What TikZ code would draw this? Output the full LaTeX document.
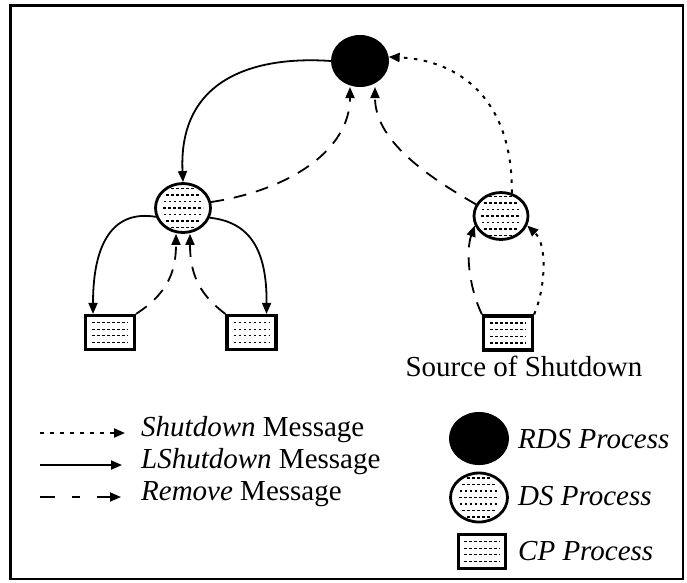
\documentclass[tikz,border=0pt]{standalone}
\usepackage{fontspec}
\setmainfont{Liberation Serif}
\usetikzlibrary{shapes.geometric,arrows.meta}

\begin{document}
\begin{tikzpicture}[x=1pt,y=-1pt,
  label/.style={inner sep=0pt, font=\fontsize{29}{32}\selectfont},
  tip/.style={-{Triangle[length=11pt,width=9pt]}},
  lshut/.style={tip, line width=1.8pt},
  remove/.style={tip, line width=1.8pt, dash pattern=on 13pt off 10pt},
  shut/.style={tip, line width=2pt, dash pattern=on 3.5pt off 6.5pt},
  texture/.style={line width=1.3pt, dash pattern=on 2.5pt off 2.5pt},
  dstex/.style={path picture={
    \foreach \dy in {-19.5,-13,-6.5,0,6.5,13,19.5}{
      \pgfmathsetmacro\halflen{20*sqrt(max(0,1-(\dy/24)^2))}
      \draw[texture] ([xshift=-\halflen pt,yshift=\dy pt]path picture bounding box.center)
        -- ([xshift=\halflen pt,yshift=\dy pt]path picture bounding box.center);
    }}},
  cptex/.style={path picture={
    \foreach \dy in {-10,-3.3,3.3,10}{
      \draw[texture] ([xshift=-18pt,yshift=\dy pt]path picture bounding box.center)
        -- ([xshift=18pt,yshift=\dy pt]path picture bounding box.center);
    }}},
  rdsnode/.style={ellipse, draw, fill=black, line width=1pt, inner sep=0pt,
    minimum width=57pt, minimum height=51pt},
  dsnode/.style={ellipse, draw, fill=white, line width=2.8pt, inner sep=0pt,
    minimum width=55pt, minimum height=49pt, dstex},
  cpnode/.style={rectangle, draw, fill=white, line width=3.2pt, inner sep=0pt,
    minimum width=49pt, minimum height=34pt, cptex}
]
\useasboundingbox (0,0) rectangle (687,582);
\draw[line width=2.5pt] (10.5,5.5) rectangle (683,579);

% processes
\node[rdsnode] (rds) at (360,61) {};
\node[dsnode] (dsl) at (183,208) {};
\node[dsnode, minimum width=54pt, minimum height=47pt] (dsr) at (501,216) {};
\node[cpnode] (cpl) at (110,332.5) {};
\node[cpnode] (cpm) at (251.5,332.5) {};
\node[cpnode] (cpr) at (508,333) {};
\node[label, anchor=base] (src) at (524,376) {Source of Shutdown};

% LShutdown messages
\draw[lshut] (rds.west) .. controls (260,56) and (178,75) .. (dsl.north);
\draw[lshut] (dsl.198) .. controls (115,210) and (93,240) .. ([xshift=-17pt]cpl.north);
\draw[lshut] (dsl.-20) .. controls (250,222) and (267,250) .. ([xshift=15pt]cpm.north);

% Remove messages
\draw[remove] (dsl.12) .. controls (290,190) and (350,150) .. ([xshift=-10pt]rds.south);
\draw[remove] (dsr.155) .. controls (425,175) and (375,140) .. ([xshift=15pt]rds.south);
\draw[remove] (cpl.north east) .. controls (165,295) and (176,275) .. ([xshift=-7pt]dsl.south);
\draw[remove] (cpm.north west) .. controls (200,295) and (190,275) .. ([xshift=7pt]dsl.south);
\draw[remove] (cpr.north west) .. controls (468,285) and (466,250) .. (dsr.200);

% Shutdown messages
\draw[shut] (dsr.65) .. controls (513,100) and (460,60) .. (rds.8);
\draw[shut] (cpr.north east) .. controls (545,290) and (548,245) .. (dsr.-20);

% legend: message kinds
\coordinate (ka) at (40,433);  \coordinate (kb) at (125,433);
\coordinate (kc) at (40,465);  \coordinate (kd) at (122,465);
\coordinate (ke) at (40,497);  \coordinate (kf) at (121,497);
\draw[shut] (ka) -- (kb);
\draw[lshut] (kc) -- (kd);
\draw[tip, line width=1.8pt, dash pattern=on 15pt off 17pt on 8pt off 17pt on 30pt] (ke) -- (kf);
\node[label, anchor=base west] (kt1) at (141,436.5) {\textit{Shutdown} Message};
\node[label, anchor=base west] (kt2) at (141,468.5) {\textit{LShutdown} Message};
\node[label, anchor=base west] (kt3) at (141,500.5) {\textit{Remove} Message};

% legend: process kinds
\node[rdsnode, minimum width=59pt, minimum height=52pt] (krds) at (479,438.5) {};
\node[dsnode, minimum width=57pt, minimum height=49pt] (kds) at (479,497.5) {};
\node[cpnode, minimum width=47pt, minimum height=34pt] (kcp) at (482,551.5) {};
\node[label, anchor=base west] (kt4) at (518,448) {\textit{RDS Process}};
\node[label, anchor=base west] (kt5) at (518,505) {\textit{DS Process}};
\node[label, anchor=base west] (kt6) at (518,560) {\textit{CP Process}};
\end{tikzpicture}
\end{document}
